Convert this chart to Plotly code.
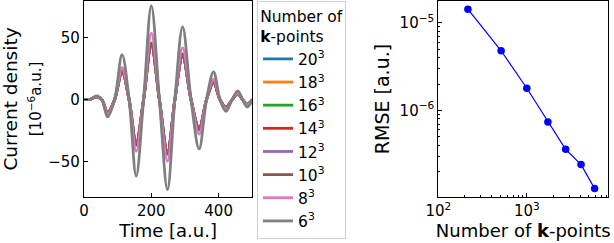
import plotly.graph_objects as go

# ---- data: current density (10^-6 a.u.) vs time (a.u.), read at extrema / zero crossings
time = [0, 18, 37, 53, 70, 91, 113, 134, 155, 177, 200, 224, 248, 270, 293, 318, 342, 364, 385, 404, 422, 440, 457, 471, 485, 500]
k20 = [0, 0.2, 2.3, 0, -10.3, 0, 22.4, 0, -35.0, 0, 44.0, 0, -42.5, 0, 35.1, 0, -23.2, 0, 13.8, 0, -6.2, 0, 4.6, 0, -3.7, 0]
k18 = [0, 0.2, 2.3, 0, -10.3, 0, 22.5, 0, -35.1, 0, 44.1, 0, -42.6, 0, 35.2, 0, -23.2, 0, 13.8, 0, -6.2, 0, 4.6, 0, -3.7, 0]
k16 = [0, 0.2, 2.3, 0, -10.4, 0, 22.6, 0, -35.2, 0, 44.2, 0, -42.7, 0, 35.3, 0, -23.3, 0, 13.9, 0, -6.2, 0, 4.6, 0, -3.7, 0]
k14 = [0, 0.2, 2.3, 0, -10.5, 0, 22.8, 0, -35.5, 0, 44.5, 0, -43.0, 0, 35.5, 0, -23.5, 0, 14.0, 0, -6.3, 0, 4.7, 0, -3.8, 0]
k12 = [0, 0.2, 2.3, 0, -10.5, 0, 23.0, 0, -36.0, 0, 45.0, 0, -43.5, 0, 36.0, 0, -24.0, 0, 14.0, 0, -6.5, 0, 4.8, 0, -3.8, 0]
k10 = [0, 0.2, 2.4, 0, -11.0, 0, 23.5, 0, -37.0, 0, 46.0, 0, -44.5, 0, 37.0, 0, -24.5, 0, 14.5, 0, -6.5, 0, 5.0, 0, -4.0, 0]
k8 = [0, 0.2, 2.6, 0, -12.0, 0, 26.0, 0, -42.0, 0, 54.0, 0, -50.0, 0, 42.0, 0, -28.0, 0, 16.5, 0, -7.5, 0, 5.5, 0, -4.5, 0]
k6 = [0, 0.2, 3.0, 0, -14.0, 0, 36.5, 0, -62.0, 0, 76.0, 0, -73.0, 0, 59.0, 0, -40.0, 0, 22.5, 0, -9.5, 0, 7.0, 0, -6.0, 0]

series_names = ["20<sup>3</sup>", "18<sup>3</sup>", "16<sup>3</sup>", "14<sup>3</sup>",
                "12<sup>3</sup>", "10<sup>3</sup>", "8<sup>3</sup>", "6<sup>3</sup>"]
series_values = [k20, k18, k16, k14, k12, k10, k8, k6]
colors = ["#1f77b4", "#ff7f0e", "#2ca02c", "#d62728", "#9467bd", "#8c564b", "#e377c2", "#7f7f7f"]

# ---- data: RMSE vs number of k-points
n_kpoints = [216, 512, 1000, 1728, 2744, 4096, 5832]
rmse = [1.42e-5, 4.78e-6, 1.79e-6, 7.38e-7, 3.61e-7, 2.42e-7, 1.29e-7]

x2_ticks = [100, 1000]
x2_ticktext = ["10<sup>2</sup>", "10<sup>3</sup>"]
y2_ticks = [1e-6, 1e-5]
y2_ticktext = ["10<sup>−6</sup>", "10<sup>−5</sup>"]
minor_x = [200, 300, 400, 500, 600, 700, 800, 900, 2000, 3000, 4000, 5000, 6000, 7000, 8000]
minor_y = [2e-7, 3e-7, 4e-7, 5e-7, 6e-7, 7e-7, 8e-7, 9e-7,
           2e-6, 3e-6, 4e-6, 5e-6, 6e-6, 7e-6, 8e-6, 9e-6]

FONT = "DejaVu Sans"
fig = go.Figure()

for i, (name, vals, col) in enumerate(zip(series_names, series_values, colors)):
    fig.add_trace(go.Scatter(
        x=time, y=vals, mode="lines", name=name,
        line=dict(color=col, width=2.8, shape="spline", smoothing=1.0),
        xaxis="x", yaxis="y", legendgroup=str(i)))

fig.add_trace(go.Scatter(
    x=n_kpoints, y=rmse, mode="lines+markers", showlegend=False,
    line=dict(color="#0000ff", width=1.2),
    marker=dict(color="#0000ff", size=7.5),
    xaxis="x2", yaxis="y2"))

axis_common = dict(showline=True, linecolor="black", linewidth=1.2, mirror=True,
                   ticks="inside", ticklen=4, tickwidth=1, tickcolor="black",
                   showgrid=False, zeroline=False, automargin=False,
                   tickfont=dict(family=FONT, size=15, color="black"))

fig.update_layout(
    width=614, height=243,
    margin=dict(l=0, r=0, t=1, b=46, autoexpand=False),
    paper_bgcolor="white", plot_bgcolor="white",
    font=dict(family=FONT, color="black"),
    xaxis=dict(domain=[84 / 614, 252.3 / 614], range=[0, 500], tickvals=[0, 200, 400],
               title=dict(text="Time [a.u.]", font=dict(size=18), standoff=0),
               anchor="y", **axis_common),
    yaxis=dict(domain=[0, 1], range=[-79, 80], tickvals=[-50, 0, 50],
               title=dict(text="Current density<br><span style='font-size:15px'>[10<sup>−6</sup>a.u.]</span>",
                          font=dict(size=18.5), standoff=4),
               anchor="x", **axis_common),
    xaxis2=dict(domain=[438.3 / 614, 608.3 / 614], type="log", range=[2, 3.92],
                tickvals=x2_ticks, ticktext=x2_ticktext,
                minor=dict(tickvals=minor_x, ticks="inside", ticklen=2, tickcolor="black", showgrid=False),
                title=dict(text="Number of <b>k</b>-points", font=dict(size=18), standoff=0),
                anchor="y2", **axis_common),
    yaxis2=dict(domain=[0, 1], type="log", range=[-6.985, -4.754],
                tickvals=y2_ticks, ticktext=y2_ticktext,
                minor=dict(tickvals=minor_y, ticks="inside", ticklen=2, tickcolor="black", showgrid=False),
                title=dict(text="RMSE [a.u.]", font=dict(size=19), standoff=4),
                anchor="x2", **axis_common),
    legend=dict(x=257 / 614, y=1 - 1 / 243, xref="paper", yref="container",
                xanchor="left", yanchor="top", maxheight=400,
                bgcolor="white", bordercolor="#d0d0d0", borderwidth=1,
                font=dict(family=FONT, size=15.5, color="black"),
                title=dict(text="Number of<br><b>k</b>-points", side="top center",
                           font=dict(family=FONT, size=15.5)),
                tracegroupgap=0, itemwidth=30),
)

fig.write_html("out.html", config={"displayModeBar": False},
               post_script="document.body.style.margin='0';")
